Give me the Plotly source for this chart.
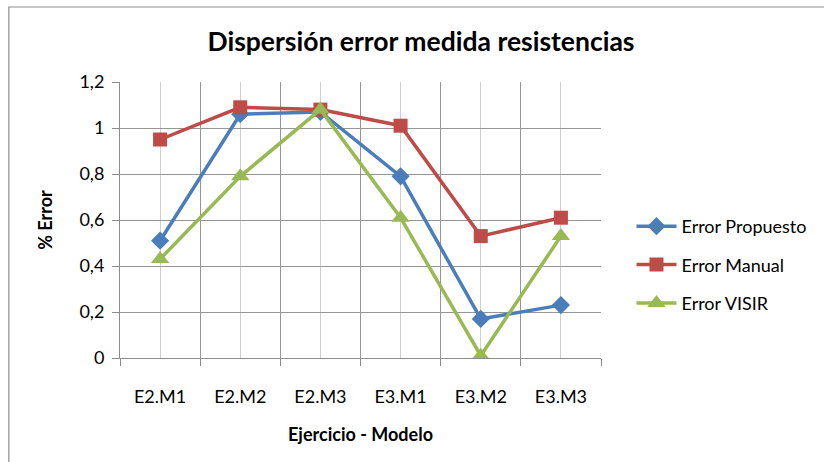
import plotly.graph_objects as go

categories = ["E2.M1", "E2.M2", "E2.M3", "E3.M1", "E3.M2", "E3.M3"]
error_propuesto = [0.51, 1.06, 1.07, 0.79, 0.17, 0.23]
error_manual = [0.95, 1.09, 1.08, 1.01, 0.53, 0.61]
error_visir = [0.43, 0.79, 1.08, 0.61, 0.01, 0.53]
y_ticks = [0, 0.2, 0.4, 0.6, 0.8, 1.0, 1.2]
y_tick_labels = ["0", "0,2", "0,4", "0,6", "0,8", "1", "1,2"]

# categories sit at the centre of each unit band on a numeric axis
x_pos = [i + 0.5 for i in range(len(categories))]

FONT = "Lato"
W, H = 824, 462
L, R, T, B = 120, 215, 82, 104
pw, ph = W - L - R, H - T - B

series = [
    ("Error Propuesto", error_propuesto, "#4A7EBB", "diamond", 14),
    ("Error Manual", error_manual, "#BE4B48", "square", 14),
    ("Error VISIR", error_visir, "#98B954", "triangle-up", 16),
]

fig = go.Figure()
for name, vals, color, sym, size in series:
    fig.add_trace(go.Scatter(
        x=x_pos, y=vals, name=name, legendgroup=name,
        mode="lines+markers",
        line=dict(color=color, width=3.5),
        marker=dict(symbol=sym, size=size, color=color),
    ))

# outer chart frame
fig.add_shape(type="rect", xref="paper", yref="paper",
              x0=(7 - L) / pw, x1=(W + 20 - L) / pw,
              y0=-(H + 20 - T - ph) / ph, y1=(H - 7 - B) / ph,
              line=dict(color="#8C8C8C", width=1.2), fillcolor="rgba(0,0,0,0)",
              layer="below")

fig.update_layout(
    width=W, height=H,
    margin=dict(l=L, r=R, t=T, b=B),
    paper_bgcolor="white", plot_bgcolor="white",
    font=dict(family=FONT, size=17, color="#000000"),
    title=dict(text="<b>Dispersión error medida resistencias</b>",
               x=(421) / W, xanchor="center", y=1 - 42 / H, yanchor="middle",
               font=dict(family=FONT, size=26.5, color="#000000")),
    showlegend=True,
    legend=dict(x=(640 - L) / pw, xanchor="left",
                y=(358 - 265) / ph, yanchor="middle",
                traceorder="grouped", tracegroupgap=12,
                font=dict(family=FONT, size=18, color="#000000"),
                bgcolor="rgba(0,0,0,0)", itemwidth=40),
    xaxis=dict(
        range=[0, len(categories)],
        tickmode="array", tickvals=x_pos, ticktext=categories,
        ticks="", showgrid=True, gridcolor="#D0D0D0", gridwidth=1,
        minor=dict(tickmode="linear", tick0=0, dtick=1, ticks="outside",
                   ticklen=7, tickcolor="#8C8C8C", showgrid=True,
                   gridcolor="#969696", gridwidth=1),
        showline=True, linecolor="#8C8C8C", linewidth=1,
        zeroline=False, ticklabelstandoff=22,
        title=dict(text="<b>Ejercicio - Modelo</b>", standoff=22,
                   font=dict(family=FONT, size=18)),
        tickfont=dict(family=FONT, size=18, color="#000000"),
    ),
    yaxis=dict(
        range=[0, 1.2],
        tickmode="array", tickvals=y_ticks, ticktext=y_tick_labels,
        ticks="outside", ticklen=7, tickcolor="#8C8C8C",
        showgrid=True, gridcolor="#969696", gridwidth=1,
        showline=True, linecolor="#8C8C8C", linewidth=1,
        zeroline=False, ticklabelstandoff=4,
        title=dict(text="<b>% Error</b>", standoff=22,
                   font=dict(family=FONT, size=18)),
        tickfont=dict(family=FONT, size=18, color="#000000"),
    ),
)

fig.write_html("out.html")
